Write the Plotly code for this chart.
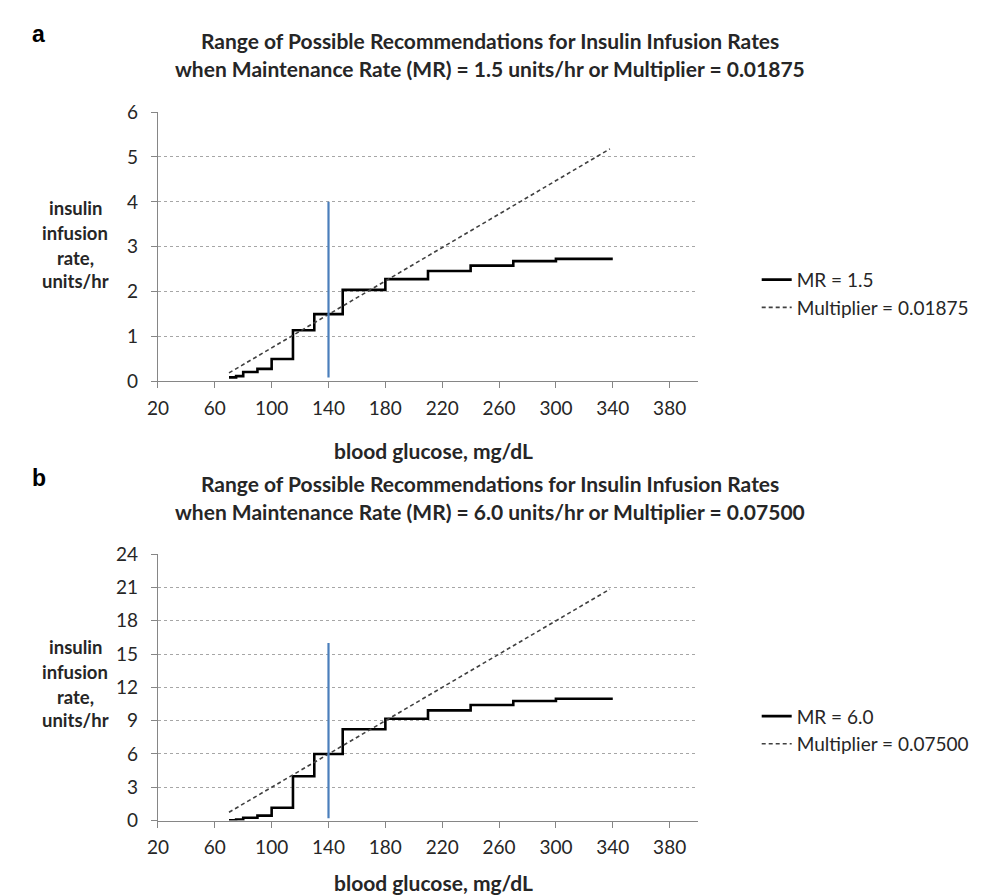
import plotly.graph_objects as go

# ---------------- data ----------------
bg_steps = [70, 75, 80, 90, 100, 115, 130, 150, 180, 210, 240, 270, 300, 340]
rate_mr15 = [0.09, 0.12, 0.21, 0.28, 0.5, 1.14, 1.5, 2.04, 2.28, 2.46, 2.58, 2.68, 2.73, 2.73]
rate_mr60 = [0.03, 0.1, 0.26, 0.45, 1.15, 4.0, 6.0, 8.23, 9.17, 9.93, 10.42, 10.77, 10.98, 10.98]

mult_bg = [70, 338]
mult_a = [0.19, 5.18]
mult_b = [0.75, 20.85]

target_bg = [140, 140]
target_a = [0.09, 4.0]
target_b = [0.2, 16.0]

x_ticks = [20, 60, 100, 140, 180, 220, 260, 300, 340, 380]
y_ticks_a = [0, 1, 2, 3, 4, 5, 6]
y_ticks_b = [0, 3, 6, 9, 12, 15, 18, 21, 24]

title_a = ["Range of Possible Recommendations for Insulin Infusion Rates",
           "when Maintenance Rate (MR) = 1.5 units/hr or Multiplier = 0.01875"]
title_b = ["Range of Possible Recommendations for Insulin Infusion Rates",
           "when Maintenance Rate (MR) = 6.0 units/hr or Multiplier = 0.07500"]
y_title_lines = ["insulin", "infusion", "rate,", "units/hr"]
x_title = "blood glucose, mg/dL"

# ---------------- layout helpers ----------------
W, H = 989, 895
FONT = "Lato"
TXT = "#262626"


def py(px):
    return 1 - px / H


def px_x(px):
    return px / W


x_dom = [px_x(140.5), px_x(686.7)]
ya_dom = [py(371), py(94.5)]
yb_dom = [py(821.7), py(548.3)]

fig = go.Figure()

# panel a
fig.add_trace(go.Scatter(x=bg_steps, y=rate_mr15, mode="lines", line=dict(color="black", width=2.6, shape="hv"),
                         name="MR = 1.5", xaxis="x", yaxis="y", legend="legend"))
fig.add_trace(go.Scatter(x=mult_bg, y=mult_a, mode="lines", line=dict(color="#404040", width=1.6, dash="4px,3px"),
                         name="Multiplier = 0.01875", xaxis="x", yaxis="y", legend="legend"))
fig.add_trace(go.Scatter(x=target_bg, y=target_a, mode="lines", line=dict(color="#4a7ebb", width=2.2),
                         showlegend=False, xaxis="x", yaxis="y"))

# panel b
fig.add_trace(go.Scatter(x=bg_steps, y=rate_mr60, mode="lines", line=dict(color="black", width=2.6, shape="hv"),
                         name="MR = 6.0", xaxis="x2", yaxis="y2", legend="legend2"))
fig.add_trace(go.Scatter(x=mult_bg, y=mult_b, mode="lines", line=dict(color="#404040", width=1.6, dash="4px,3px"),
                         name="Multiplier = 0.07500", xaxis="x2", yaxis="y2", legend="legend2"))
fig.add_trace(go.Scatter(x=target_bg, y=target_b, mode="lines", line=dict(color="#4a7ebb", width=2.2),
                         showlegend=False, xaxis="x2", yaxis="y2"))

axis_common = dict(showline=True, linecolor="#868686", linewidth=1, zeroline=False,
                   ticks="outside", tickcolor="#868686", ticklen=6,
                   tickfont=dict(family=FONT, size=19, color=TXT))

xcfg = dict(axis_common, range=[20, 400], tickvals=x_ticks, showgrid=False, domain=x_dom, ticklabelstandoff=4)
ycfg_grid = dict(showgrid=True, gridcolor="#a6a6a6", gridwidth=1, griddash="dot", ticklabelstandoff=9)

legend_common = dict(xanchor="left", yanchor="middle", font=dict(family=FONT, size=19, color=TXT),
                     bgcolor="rgba(0,0,0,0)", tracegroupgap=0, itemwidth=30)

fig.update_layout(
    width=W, height=H,
    margin=dict(l=0, r=0, t=0, b=0),
    paper_bgcolor="white", plot_bgcolor="white",
    font=dict(family=FONT, color=TXT),
    xaxis=dict(xcfg, anchor="y"),
    yaxis=dict(axis_common, **ycfg_grid, range=[0, 6], tickvals=y_ticks_a, domain=ya_dom, anchor="x"),
    xaxis2=dict(xcfg, anchor="y2"),
    yaxis2=dict(axis_common, **ycfg_grid, range=[0, 24], tickvals=y_ticks_b, domain=yb_dom, anchor="x2"),
    legend=dict(legend_common, x=px_x(746), y=py(281)),
    legend2=dict(legend_common, x=px_x(746), y=py(729)),
)

ann = []
# panel letters
for letter, yy in (("a", 14), ("b", 470)):
    ann.append(dict(text="<b>" + letter + "</b>", x=px_x(11), y=py(yy), xref="paper", yref="paper",
                    xanchor="left", yanchor="middle", showarrow=False,
                    font=dict(family="Liberation Sans", size=23, color="black")))

# titles
for lines, ys in ((title_a, (21, 50)), (title_b, (476, 504))):
    for t, yy in zip(lines, ys):
        ann.append(dict(text="<b>" + t + "</b>", x=px_x(476), y=py(yy), xref="paper", yref="paper",
                        xanchor="center", yanchor="middle", showarrow=False,
                        font=dict(family=FONT, size=21, color=TXT)))

# y-axis titles
for base in (0, 450.7):
    for t, yy in zip(y_title_lines, (193, 219, 244, 268)):
        ann.append(dict(text="<b>" + t + "</b>", x=px_x(57), y=py(yy + base), xref="paper", yref="paper",
                        xanchor="center", yanchor="middle", showarrow=False,
                        font=dict(family=FONT, size=18.5, color=TXT)))

# x-axis titles
for yy in (442, 885):
    ann.append(dict(text="<b>" + x_title + "</b>", x=px_x(419), y=py(yy), xref="paper", yref="paper",
                    xanchor="center", yanchor="middle", showarrow=False,
                    font=dict(family=FONT, size=21, color=TXT)))

fig.update_layout(annotations=ann)

fig.write_html("out.html")
